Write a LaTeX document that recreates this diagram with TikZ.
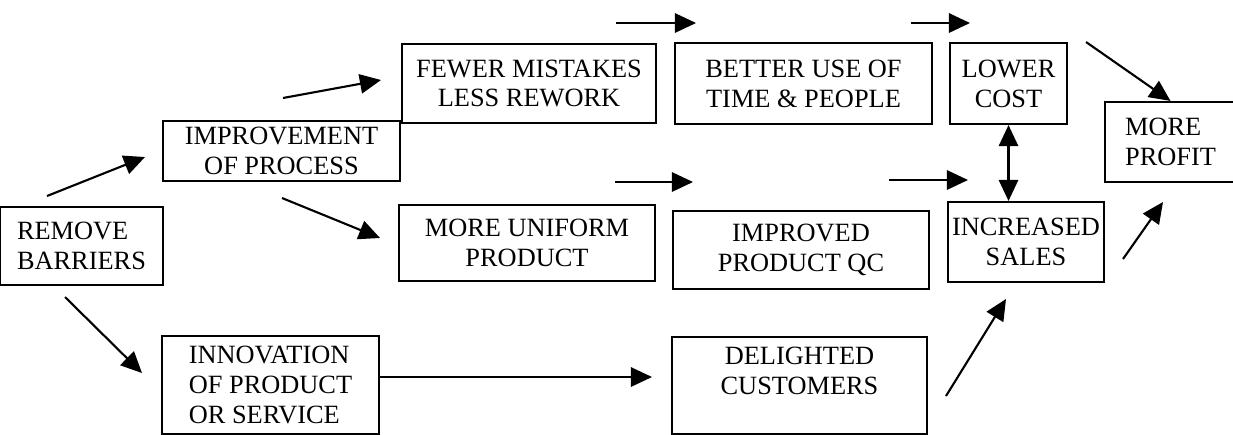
\documentclass[tikz,border=0pt]{standalone}
\usepackage{fontspec}
\setmainfont{Liberation Serif}
\usetikzlibrary{arrows.meta}

\begin{document}
\begin{tikzpicture}[very thick,
    box/.style={shape=rectangle, draw=black, inner xsep=2pt, inner ysep=0pt, align=center, font=\fontsize{15}{17}\selectfont},
    arrow/.style={-{Triangle[length=12pt, width=11pt]}}]
    \useasboundingbox (0, 0) rectangle (24.66, -8.68);

    % boxes
    \node[box, align=left, minimum width=3.26cm, minimum height=1.56cm] (remove) at (1.63, -4.92) {REMOVE\\BARRIERS};
    \node[box, minimum width=4.74cm, minimum height=1.2cm] (improve) at (5.63, -3.02) {IMPROVEMENT\\OF PROCESS};
    \node[box, align=left, minimum width=4.34cm, minimum height=1.96cm] (innov) at (5.41, -7.7) {INNOVATION\\OF PRODUCT\\OR SERVICE};
    \node[box, minimum width=5.08cm, minimum height=1.58cm] (fewer) at (10.58, -1.67) {FEWER MISTAKES\\LESS REWORK};
    \node[box, minimum width=5.12cm, minimum height=1.52cm] (uniform) at (10.54, -4.86) {MORE UNIFORM\\PRODUCT};
    \node[box, minimum width=5.14cm, minimum height=1.62cm] (better) at (16.07, -1.67) {BETTER USE OF\\TIME \& PEOPLE};
    \node[box, minimum width=5.12cm, minimum height=1.56cm] (qc) at (16.02, -5.0) {IMPROVED\\PRODUCT QC};
    \node[box, minimum width=5.1cm, minimum height=1.94cm] (delight) at (15.99, -7.71) {DELIGHTED\\CUSTOMERS\\~};
    \node[box, minimum width=2.34cm, minimum height=1.62cm] (lower) at (20.17, -1.67) {LOWER\\COST};
    \node[box, minimum width=3.12cm, minimum height=1.6cm] (sales) at (20.52, -4.84) {INCREASED\\SALES};
    \node[box, align=left, minimum width=2.62cm, minimum height=1.6cm] (profit) at (23.41, -2.84) {MORE\\PROFIT};

    % free arrow ends
    \coordinate (removeUp) at (0.94, -3.92);
    \coordinate (improveIn) at (2.9, -3.14);
    \coordinate (removeDown) at (1.3, -5.94);
    \coordinate (innovIn) at (2.84, -7.46);
    \coordinate (improveUp) at (5.66, -1.96);
    \coordinate (fewerIn) at (7.62, -1.6);
    \coordinate (improveDown) at (5.64, -3.96);
    \coordinate (uniformIn) at (7.6, -4.76);
    \coordinate (topA) at (12.32, -0.46);
    \coordinate (topAtip) at (13.92, -0.46);
    \coordinate (topB) at (18.22, -0.46);
    \coordinate (topBtip) at (19.4, -0.46);
    \coordinate (midA) at (12.3, -3.64);
    \coordinate (midAtip) at (13.86, -3.64);
    \coordinate (midB) at (17.78, -3.6);
    \coordinate (midBtip) at (19.36, -3.6);
    \coordinate (delightIn) at (13.04, -7.54);
    \coordinate (lowerOut) at (21.72, -0.84);
    \coordinate (salesOut) at (22.46, -5.18);
    \coordinate (profitIn) at (23.26, -4.04);
    \coordinate (delightOut) at (18.92, -7.92);
    \coordinate (salesIn) at (20.12, -5.98);

    % arrows
    \draw [arrow] (removeUp) -- (improveIn);
    \draw [arrow] (removeDown) -- (innovIn);
    \draw [arrow] (improveUp) -- (fewerIn);
    \draw [arrow] (improveDown) -- (uniformIn);
    \draw [arrow] (topA) -- (topAtip);
    \draw [arrow] (topB) -- (topBtip);
    \draw [arrow] (midA) -- (midAtip);
    \draw [arrow] (midB) -- (midBtip);
    \draw [arrow] (innov.east |- delightIn) -- (delightIn);
    \draw [{Triangle[length=12pt, width=11pt]}-{Triangle[length=12pt, width=11pt]}] (lower.south) -- (lower.south |- sales.north);
    \draw [arrow] (lowerOut) -- (profit.north);
    \draw [arrow] (salesOut) -- (profitIn);
    \draw [arrow] (delightOut) -- (salesIn);
  \end{tikzpicture}
\end{document}
